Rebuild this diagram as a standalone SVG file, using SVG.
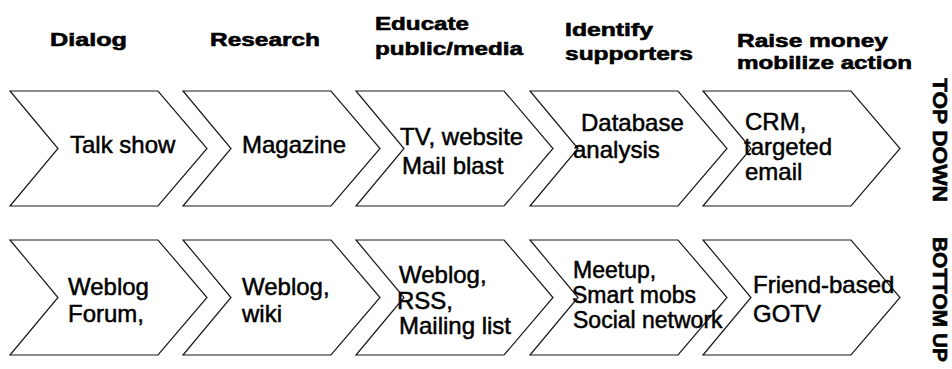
<svg xmlns="http://www.w3.org/2000/svg" xmlns:xlink="http://www.w3.org/1999/xlink" width="952" height="369" viewBox="0 0 952 369">
  <style>
    .chev { fill: none; stroke: #1a1a1a; stroke-width: 1.2; stroke-linejoin: miter; }
    .hdr { font-family: "Liberation Sans", Arial, sans-serif; font-weight: bold; font-size: 19px; fill: #000; stroke: #000; stroke-width: 0.6; }
    .side { font-family: "Liberation Sans", Arial, sans-serif; font-weight: bold; font-size: 21px; fill: #000; stroke: #000; stroke-width: 0.6; }
    .body { font-family: "Liberation Sans", Arial, sans-serif; font-size: 24px; fill: #000; stroke: #000; stroke-width: 0.5; }
    .tight { font-size: 23px; }
  </style>
  <defs>
    <!-- one chevron step, 197 wide and 115 tall -->
    <path id="chevron" d="M0,0 H148 L197,57.5 L148,115 H0 L48,57.5 Z"/>
  </defs>

  <rect width="952" height="369" fill="#fff"/>

  <!-- column headings -->
  <g id="headings">
    <text class="hdr" x="50" y="46" textLength="77" lengthAdjust="spacingAndGlyphs">Dialog</text>
    <text class="hdr" x="210" y="46" textLength="110" lengthAdjust="spacingAndGlyphs">Research</text>
    <text class="hdr" x="375" y="30" textLength="94" lengthAdjust="spacingAndGlyphs">Educate</text>
    <text class="hdr" x="375" y="55" textLength="148" lengthAdjust="spacingAndGlyphs">public/media</text>
    <text class="hdr" x="565" y="36" textLength="88" lengthAdjust="spacingAndGlyphs">Identify</text>
    <text class="hdr" x="565" y="60" textLength="128" lengthAdjust="spacingAndGlyphs">supporters</text>
    <text class="hdr" x="737" y="47" textLength="151" lengthAdjust="spacingAndGlyphs">Raise money</text>
    <text class="hdr" x="737" y="69" textLength="175" lengthAdjust="spacingAndGlyphs">mobilize action</text>
  </g>

  <!-- row labels, set vertically -->
  <g id="row-labels">
    <text class="side" transform="translate(933,78) rotate(90)" textLength="124" lengthAdjust="spacingAndGlyphs">TOP DOWN</text>
    <text class="side" transform="translate(933,237) rotate(90)" textLength="125" lengthAdjust="spacingAndGlyphs">BOTTOM UP</text>
  </g>

  <!-- top-down row -->
  <g id="td-dialog">
    <use xlink:href="#chevron" class="chev" x="10" y="91"/>
    <text class="body" x="70" y="153">Talk show</text>
  </g>
  <g id="td-research">
    <use xlink:href="#chevron" class="chev" x="183" y="91"/>
    <text class="body" x="242" y="153">Magazine</text>
  </g>
  <g id="td-educate">
    <use xlink:href="#chevron" class="chev" x="356" y="91"/>
    <text class="body" x="400" y="145">TV, website</text>
    <text class="body" x="402" y="174">Mail blast</text>
  </g>
  <g id="td-identify">
    <use xlink:href="#chevron" class="chev" x="530" y="91"/>
    <text class="body" x="581" y="131">Database</text>
    <text class="body" x="573" y="158">analysis</text>
  </g>
  <g id="td-raise">
    <use xlink:href="#chevron" class="chev" x="703" y="91"/>
    <text class="body" x="745" y="130">CRM,</text>
    <text class="body" x="744" y="155">targeted</text>
    <text class="body" x="745" y="180">email</text>
  </g>

  <!-- bottom-up row -->
  <g id="bu-dialog">
    <use xlink:href="#chevron" class="chev" x="10" y="240"/>
    <text class="body" x="68" y="295">Weblog</text>
    <text class="body" x="68" y="322">Forum,</text>
  </g>
  <g id="bu-research">
    <use xlink:href="#chevron" class="chev" x="183" y="240"/>
    <text class="body" x="242" y="295">Weblog,</text>
    <text class="body" x="242" y="322">wiki</text>
  </g>
  <g id="bu-educate">
    <use xlink:href="#chevron" class="chev" x="356" y="240"/>
    <text class="body" x="399" y="283">Weblog,</text>
    <text class="body" x="397" y="309">RSS,</text>
    <text class="body" x="399" y="334">Mailing list</text>
  </g>
  <g id="bu-identify">
    <use xlink:href="#chevron" class="chev" x="530" y="240"/>
    <text class="body tight" x="573" y="278">Meetup,</text>
    <text class="body tight" x="572" y="303">Smart mobs</text>
    <text class="body tight" x="573" y="328">Social network</text>
  </g>
  <g id="bu-raise">
    <use xlink:href="#chevron" class="chev" x="703" y="240"/>
    <text class="body" x="753" y="293">Friend-based</text>
    <text class="body" x="753" y="322">GOTV</text>
  </g>
</svg>
